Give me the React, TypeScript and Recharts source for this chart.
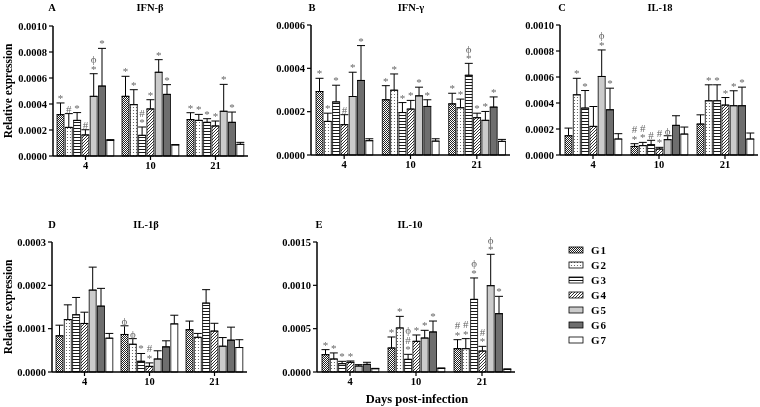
import React from 'react';
import { BarChart, Bar, XAxis, YAxis, ErrorBar, LabelList } from 'recharts';

const days = ['4', '10', '21'];
const groups = ['G1', 'G2', 'G3', 'G4', 'G5', 'G6', 'G7'];
const fills = ['url(#pG1)', 'url(#pG2)', 'url(#pG3)', 'url(#pG4)', '#cbcbcb', '#6e6e6e', '#ffffff'];

// rows = day 4, 10, 21 ; columns = G1..G7
const ifnbMean = [
  [0.000318, 0.00022, 0.000274, 0.000162, 0.000459, 0.000538, 0.00012],
  [0.000459, 0.000395, 0.000159, 0.000362, 0.000644, 0.000474, 0.000085],
  [0.00028, 0.000274, 0.000259, 0.000231, 0.000344, 0.000259, 0.00009],
];
const ifnbErr = [
  [0.00009, 0.000106, 0.00006, 0.00004, 0.000174, 0.00029, 0.000006],
  [0.000154, 0.000115, 0.000064, 0.000071, 0.000097, 0.000075, 0.000003],
  [0.000053, 0.000046, 0.000028, 0.000038, 0.000207, 0.000079, 0.000015],
];
const ifnbSig = [
  ['*', '#', '*', '#', 'ϕ/*', '*', ''],
  ['*', '*', '#/*', '*', '*', '*', ''],
  ['*', '*', '*', '*', '*', '*', ''],
];

const ifngMean = [
  [0.000293, 0.000155, 0.000245, 0.00014, 0.00027, 0.000344, 0.000066],
  [0.000255, 0.000299, 0.000196, 0.000212, 0.000273, 0.000224, 0.000064],
  [0.000236, 0.000218, 0.000368, 0.000172, 0.00016, 0.000221, 0.000063],
];
const ifngErr = [
  [0.000061, 0.000038, 0.000077, 0.000046, 0.000112, 0.000161, 0.000009],
  [0.000065, 0.000075, 0.000046, 0.00004, 0.00004, 0.000031, 0.000011],
  [0.000049, 0.00004, 0.000055, 0.000021, 0.000041, 0.000047, 0.000009],
];
const ifngSig = [
  ['*', '*', '*', '#', '*', '*', ''],
  ['*', '*', '*', '*', '*', '*', ''],
  ['*', '*', 'ϕ/*', '*', '*', '*', ''],
];

const il18Mean = [
  [0.000148, 0.000463, 0.000361, 0.00022, 0.000604, 0.000348, 0.000123],
  [0.000066, 0.000072, 0.000079, 0.000046, 0.000118, 0.000228, 0.000161],
  [0.000238, 0.000417, 0.000417, 0.000384, 0.000379, 0.000379, 0.000123],
];
const il18Err = [
  [0.000059, 0.000127, 0.000135, 0.000153, 0.000204, 0.000166, 0.000041],
  [0.000021, 0.000025, 0.000034, 0.000013, 0.00003, 0.000074, 0.000054],
  [0.000071, 0.000123, 0.000123, 0.000058, 0.000115, 0.000143, 0.000046],
];
const il18Sig = [
  ['', '*', '*', '', 'ϕ/*', '*', ''],
  ['#/*', '#/*', '#', '#/*', 'ϕ', '', ''],
  ['', '*', '*', '*', '*', '*', ''],
];

const il1bMean = [
  [0.0000835, 0.000121, 0.000132, 0.000112, 0.000189, 0.000152, 0.000078],
  [0.0000866, 0.000064, 0.0000247, 0.000013, 0.00003, 0.000058, 0.000111],
  [0.0000975, 0.00008, 0.000159, 0.0000944, 0.0000595, 0.0000735, 0.0000565],
];
const il1bErr = [
  [0.0000245, 0.000034, 0.00004, 0.000026, 0.000053, 0.000041, 0.000011],
  [0.00002, 0.000013, 0.000018, 0.000008, 0.000019, 0.000014, 0.00002],
  [0.00002, 0.000009, 0.000031, 0.000018, 0.00002, 0.00003, 0.000018],
];
const il1bSig = [
  ['', '', '', '', '', '', ''],
  ['ϕ', 'ϕ', '*', '#/*', '', '', ''],
  ['', '', '', '', '', '', ''],
];

const il10Mean = [
  [0.0002, 0.00015, 0.000096, 0.000112, 0.000069, 0.000088, 0.000038],
  [0.000277, 0.000508, 0.000146, 0.000354, 0.000392, 0.000462, 0.000042],
  [0.000269, 0.000269, 0.000838, 0.000242, 0.000996, 0.000673, 0.000031],
];
const il10Err = [
  [0.000058, 0.00007, 0.000027, 0.000015, 0.000016, 0.000024, 0.000004],
  [0.000127, 0.000134, 0.000058, 0.000073, 0.000089, 0.000126, 0.000004],
  [0.000104, 0.000116, 0.000247, 0.000054, 0.000362, 0.0002, 0.000004],
];
const il10Sig = [
  ['*', '*', '*', '*', '', '', ''],
  ['*', '*', 'ϕ/#/*', '*', '*', '*', ''],
  ['#/*', '#/*', 'ϕ/*', '#/*', 'ϕ/*', '*', ''],
];

const ticksA = [0, 0.0002, 0.0004, 0.0006, 0.0008, 0.001];
const ticksB = [0, 0.0002, 0.0004, 0.0006];
const ticksD = [0, 0.0001, 0.0002, 0.0003];
const ticksE = [0, 0.0005, 0.001, 0.0015];

const serif = '"Liberation Serif", "Times New Roman", serif';

const buildRows = (mean: number[][], err: number[][], sig: string[][]) =>
  days.map((d, i) => {
    const row: any = { day: d };
    groups.forEach((g, j) => {
      row[g] = mean[i][j];
      row[g + 'e'] = [0, err[i][j]];
      row[g + 's'] = sig[i][j];
    });
    return row;
  });

// annotation drawn above the top of the error bar
const sigLabel = (rows: any[], g: string) => (p: any) => {
  const { x, y, width, height, index } = p;
  const row = rows[index];
  if (!row || !row[g + 's']) return null;
  const errPx = row[g] ? (height * row[g + 'e'][1]) / row[g] : 0;
  const top = y - errPx;
  const lines: string[] = row[g + 's'].split('/');
  const cx = x + width / 2;
  return (
    <g>
      {lines.map((t, k) => (
        <text
          key={k}
          x={cx}
          y={top - 1 - (lines.length - 1 - k) * 9.5}
          textAnchor="middle"
          fontSize={11}
          fill="#666"
          fontFamily={serif}
        >
          {t}
        </text>
      ))}
    </g>
  );
};

interface PanelProps {
  x0: number;
  y0: number;
  w: number;
  mean: number[][];
  err: number[][];
  sig: string[][];
  ticks: number[];
}

const PLOT_H = 130;
const TOP = 16;

const Panel: React.FC<PanelProps> = ({ x0, y0, w, mean, err, sig, ticks }) => {
  const rows = buildRows(mean, err, sig);
  return (
    <div style={{ position: 'absolute', left: x0 - 50, top: y0 - TOP, willChange: 'transform' }}>
      <BarChart
        width={50 + w + 4}
        height={TOP + PLOT_H + 25}
        data={rows}
        margin={{ top: TOP, right: 4, left: 0, bottom: 0 }}
        barGap={1.3}
      >
        <XAxis
          dataKey="day"
          height={25}
          tickSize={4}
          axisLine={{ stroke: '#000', strokeWidth: 1.5 }}
          tickLine={{ stroke: '#000', strokeWidth: 1.2 }}
          tick={{ fontSize: 10.5, fontWeight: 'bold', fill: '#000', fontFamily: serif }}
        />
        <YAxis
          width={50}
          domain={[0, ticks[ticks.length - 1]]}
          ticks={ticks}
          interval={0}
          tickFormatter={(v: number) => v.toFixed(4)}
          tickSize={4}
          axisLine={{ stroke: '#000', strokeWidth: 1.5 }}
          tickLine={{ stroke: '#000', strokeWidth: 1.2 }}
          tick={{ fontSize: 10.5, fontWeight: 'bold', fill: '#000', fontFamily: serif }}
        />
        {groups.map((g, j) => (
          <Bar
            key={g}
            dataKey={g}
            fill={fills[j]}
            stroke="#000"
            strokeWidth={0.8}
            barSize={7}
            isAnimationActive={false}
          >
            <ErrorBar dataKey={g + 'e'} width={4} stroke="#000" strokeWidth={1} direction="y" />
            <LabelList dataKey={g + 's'} content={sigLabel(rows, g)} />
          </Bar>
        ))}
      </BarChart>
    </div>
  );
};

const titles = [
  { letter: 'A', lx: 52, name: 'IFN-β', nx: 150, y: 11 },
  { letter: 'B', lx: 312, name: 'IFN-γ', nx: 411, y: 11 },
  { letter: 'C', lx: 562, name: 'IL-18', nx: 660, y: 11 },
  { letter: 'D', lx: 52, name: 'IL-1β', nx: 146, y: 228 },
  { letter: 'E', lx: 319, name: 'IL-10', nx: 410, y: 228 },
];

const App: React.FC = () => {
  return (
    <div style={{ position: 'absolute', left: 0, top: 0, width: 760, height: 407, background: '#fff' }}>
      <svg width={0} height={0} style={{ position: 'absolute' }}>
        <defs>
          <pattern id="pG1" width={2} height={2} patternUnits="userSpaceOnUse">
            <rect width={2} height={2} fill="#fff" />
            <rect width={1} height={1} fill="#222" />
            <rect x={1} y={1} width={1} height={1} fill="#222" />
          </pattern>
          <pattern id="pG2" width={3} height={3} patternUnits="userSpaceOnUse">
            <rect width={3} height={3} fill="#fff" />
            <circle cx={1.5} cy={1.5} r={0.6} fill="#555" />
          </pattern>
          <pattern id="pG3" width={4} height={3} patternUnits="userSpaceOnUse">
            <rect width={4} height={3} fill="#fff" />
            <line x1={0} y1={1.5} x2={4} y2={1.5} stroke="#000" strokeWidth={0.9} />
          </pattern>
          <pattern id="pG4" width={3} height={3} patternUnits="userSpaceOnUse">
            <rect width={3} height={3} fill="#fff" />
            <path d="M0,3 L3,0 M-1,1 L1,-1 M2,4 L4,2" stroke="#000" strokeWidth={0.8} />
          </pattern>
        </defs>
      </svg>

      <Panel x0={53} y0={26} w={195} mean={ifnbMean} err={ifnbErr} sig={ifnbSig} ticks={ticksA} />
      <Panel x0={311} y0={25} w={199} mean={ifngMean} err={ifngErr} sig={ifngSig} ticks={ticksB} />
      <Panel x0={560} y0={25} w={198} mean={il18Mean} err={il18Err} sig={il18Sig} ticks={ticksA} />
      <Panel x0={52} y0={242} w={195} mean={il1bMean} err={il1bErr} sig={il1bSig} ticks={ticksD} />
      <Panel x0={317} y0={242} w={198} mean={il10Mean} err={il10Err} sig={il10Sig} ticks={ticksE} />

      <svg
        width={760}
        height={407}
        style={{ position: 'absolute', left: 0, top: 0, pointerEvents: 'none', willChange: 'transform' }}
        fontFamily={serif}
        fontWeight="bold"
      >
        {titles.map((t) => (
          <g key={t.letter}>
            <text x={t.lx} y={t.y} textAnchor="middle" fontSize={10.5}>{t.letter}</text>
            <text x={t.nx} y={t.y} textAnchor="middle" fontSize={10.5}>{t.name}</text>
          </g>
        ))}
        <text x={12} y={91} textAnchor="middle" fontSize={11.5} transform="rotate(-90 12 91)">
          Relative expression
        </text>
        <text x={12} y={307} textAnchor="middle" fontSize={11.5} transform="rotate(-90 12 307)">
          Relative expression
        </text>
        <text x={417} y={403} textAnchor="middle" fontSize={12.5}>Days post-infection</text>
        {groups.map((g, j) => (
          <g key={g}>
            <rect x={569} y={247 + j * 15} width={14} height={6} fill={fills[j]} stroke="#000" strokeWidth={0.8} />
            <text x={591} y={254 + j * 15} fontSize={11} letterSpacing={1}>{g}</text>
          </g>
        ))}
      </svg>
    </div>
  );
};

export default App;
